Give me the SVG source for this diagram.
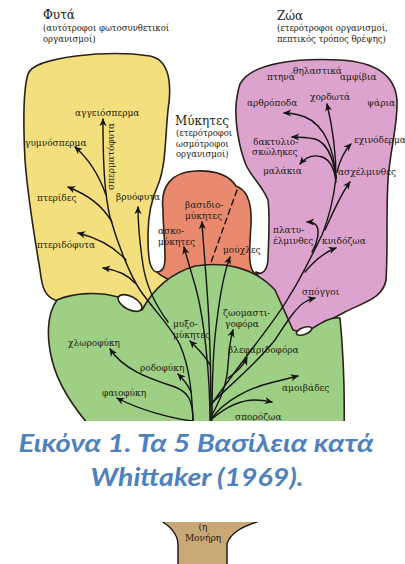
<svg xmlns="http://www.w3.org/2000/svg" width="405" height="564" viewBox="0 0 405 564">
<style>
.blob{stroke:#2a2218;stroke-width:1.6;stroke-linejoin:round}
.ln{fill:none;stroke:#141414;stroke-width:1.4;stroke-linecap:round}
.ar{marker-end:url(#ah)}
.lb{font-family:"DejaVu Serif Condensed","DejaVu Serif",serif;font-stretch:condensed;font-size:10px;fill:#221c14}
.ti{font-family:"DejaVu Serif",serif;font-size:12px;fill:#221c14}
.st{font-family:"DejaVu Serif",serif;font-size:8.5px;fill:#221c14}
.cap{font-family:Lato,"Open Sans",sans-serif;font-weight:bold;font-style:italic;font-size:25px;fill:#4f81bd}
</style>
<defs>
<marker id="ah" markerUnits="userSpaceOnUse" markerWidth="8" markerHeight="8" viewBox="0 0 10 10" refX="9" refY="5" orient="auto">
<path d="M0,0.5 L10,5 L0,9.5 L3,5 Z" fill="#141414"/>
</marker>
</defs>
<rect width="405" height="564" fill="#fff"/>

<g id="plants">
<path class="blob" fill="#f3df7e" d="M28,74 C34,56 110,50 150,56 C170,60 172,85 168,110 C165,140 166,165 158,185 C151,200 148,215 148,235 C148,250 149,262 151,266 C153,271 156,272 157,272 L178,286 L150,318 L118,300 C100,300 70,302 55,300 C45,296 42,288 40,270 C35,240 28,200 25,160 C23,120 23,90 28,74 Z"/>
</g>
<g id="fungi">
<path class="blob" fill="#e98a6e" d="M163,210 C160,186 172,172 195,171 C215,170 229,175 236,186 C247,190 252,204 251,224 C250,240 249,254 250,262 C251,270 254,274 258,274 C262,280 266,290 268,300 L160,300 C163,290 166,283 172,281 C165,278 160,275 157,272 C163,272 165,266 165,258 C165,240 163,225 163,210 Z"/>
</g>
<g id="animals">
<path class="blob" fill="#dba3cd" d="M240,84 C252,62 300,58 340,60 C375,62 395,75 397,100 C398,125 390,150 388,180 C386,215 388,250 386,280 C383,298 365,302 345,312 C330,320 315,328 303,334 L290,336 L256,272 C262,276 268,270 268,258 C269,235 270,215 268,200 C262,185 252,178 246,165 C238,145 235,120 236,105 C237,95 238,90 240,84 Z"/>
</g>
<g id="protists">
<path class="blob" fill="#9dcf84" d="M57,300 C75,292 100,292 118,297 L142,310 C150,295 165,275 195,266 C225,261 255,268 275,290 L293,330 L305,333 C318,325 330,316 340,318 C343,350 345,390 344,432 L95,432 C75,410 58,385 52,360 C47,340 46,315 57,300 Z"/>
<ellipse class="blob" fill="#fff" cx="130" cy="303" rx="13" ry="6.5" transform="rotate(28 130 303)"/>
<ellipse class="blob" fill="#fff" cx="304" cy="331" rx="8" ry="3.5" transform="rotate(-20 304 331)"/>
</g>

<g id="connectors">
<path class="ln ar" d="M193,421 C192,395 190,368 180,345 C170,325 152,308 140,290 C130,275 118,245 110,217 C105,195 103,170 103,119"/>
<path class="ln ar" d="M106,195 C100,178 90,160 75,147"/>
<path class="ln ar" d="M112,222 C102,205 88,195 68,187"/>
<path class="ln ar" d="M126,260 C115,248 98,238 78,233"/>
<path class="ln ar" d="M135,283 C128,275 117,270 103,268"/>
<path class="ln ar" d="M168,322 C154,303 146,285 143,265 C140,245 138,225 138,207"/>
<path class="ln ar" d="M193,421 C193,400 188,392 175,387 C155,380 125,372 110,349"/>
<path class="ln ar" d="M191,392 C188,385 184,380 178,374"/>
<path class="ln ar" d="M192,421 C170,418 140,410 117,398"/>
<path class="ln ar" d="M210,365 C205,355 197,348 190,341"/>
<path class="ln ar" d="M210,421 C210,380 205,320 195,285 C190,268 187,258 184,247"/>
<path class="ln ar" d="M211,421 C211,380 210,330 207,290 C205,260 203,240 202,222"/>
<path class="ln ar" d="M212,421 C212,380 214,340 217,320 C220,295 225,270 230,257"/>
<path class="ln" stroke-dasharray="6 4" d="M237,190 L210,265"/>
<path class="ln ar" d="M212,415 C220,400 227,385 228,365 C229,350 230,340 233,330"/>
<path class="ln ar" d="M228,378 C237,372 243,366 247,358"/>
<path class="ln ar" d="M212,418 C225,400 250,388 270,383 C282,380 290,378 298,376"/>
<path class="ln ar" d="M213,418 C225,408 240,400 255,400 C262,400 267,401 272,402"/>
<path class="ln" d="M211,405 C225,385 240,365 255,345 C270,325 282,310 290,295 C300,280 312,255 322,235 C330,215 334,195 336,178"/>
<path class="ln ar" d="M213,402 C230,385 255,365 275,340 C285,325 295,308 305,302 C308,300 311,299 315,298"/>
<path class="ln ar" d="M336,178 C336,150 332,125 327,104"/>
<path class="ln ar" d="M336,178 C334,150 325,125 305,117 C297,114 290,113 284,113"/>
<path class="ln ar" d="M336,178 C333,155 325,142 315,139 C305,137 298,137 292,137"/>
<path class="ln ar" d="M336,182 C334,165 328,157 318,156 C310,155 305,158 300,164"/>
<path class="ln ar" d="M337,172 C340,160 345,150 351,144"/>
<path class="ln ar" d="M325,230 C332,215 340,195 350,182"/>
<path class="ln ar" d="M312,252 C318,242 320,230 316,225 C313,222 310,222 307,222"/>
<path class="ln ar" d="M305,272 C315,260 325,252 336,248"/>
</g>

<g id="labels-plants">
<text class="ti" x="43" y="19">Φυτά</text>
<text class="st" x="43" y="31">(αυτότροφοι φωτοσυνθετικοί</text>
<text class="st" x="43" y="42">οργανισμοί)</text>
<text class="lb" x="75" y="116">αγγειόσπερμα</text>
<text class="lb" x="25" y="146">γυμνόσπερμα</text>
<text class="lb" font-size="9" transform="translate(114 190) rotate(-90)">σπερματόφυτα</text>
<text class="lb" x="37" y="201">πτερίδες</text>
<text class="lb" x="37" y="248">πτεριδόφυτα</text>
<text class="lb" x="116" y="200">βρυόφυτα</text>
</g>
<g id="labels-fungi">
<text class="ti" x="175" y="125">Μύκητες</text>
<text class="st" x="176" y="136">(ετερότροφοι</text>
<text class="st" x="176" y="146.5">ωσμότροφοι</text>
<text class="st" x="176" y="157">οργανισμοί)</text>
<text class="lb" x="185" y="208">βασιδιο-</text>
<text class="lb" x="185" y="219">μύκητες</text>
<text class="lb" x="158" y="234">ασκο-</text>
<text class="lb" x="158" y="245">μύκητες</text>
<text class="lb" x="223" y="253">μούχλες</text>
</g>
<g id="labels-protists">
<text class="lb" x="68" y="346">χλωροφύκη</text>
<text class="lb" x="140" y="371">ροδοφύκη</text>
<text class="lb" x="102" y="396">φαιοφύκη</text>
<text class="lb" x="173" y="327">μυξο-</text>
<text class="lb" x="173" y="338">μύκητες</text>
<text class="lb" x="223" y="316">ζωομαστι-</text>
<text class="lb" x="225" y="327">γοφόρα</text>
<text class="lb" x="228" y="353">βλεφαριδοφόρα</text>
<text class="lb" x="282" y="391">αμοιβάδες</text>
<text class="lb" x="235" y="420">σπορόζωα</text>
</g>
<g id="labels-animals">
<text class="ti" x="277" y="20">Ζώα</text>
<text class="st" x="277" y="31">(ετερότροφοι οργανισμοί,</text>
<text class="st" x="277" y="42">πεπτικός τρόπος θρέψης)</text>
<text class="lb" x="267" y="80">πτηνά</text>
<text class="lb" x="293" y="74">θηλαστικά</text>
<text class="lb" x="340" y="80">αμφίβια</text>
<text class="lb" x="310" y="100">χορδωτά</text>
<text class="lb" x="247" y="106">αρθρόποδα</text>
<text class="lb" x="367" y="106">ψάρια</text>
<text class="lb" x="253" y="145">δακτυλιο-</text>
<text class="lb" x="252" y="155">σκώληκες</text>
<text class="lb" x="354" y="143">εχινόδερμα</text>
<text class="lb" x="263" y="174">μαλάκια</text>
<text class="lb" x="338" y="175">ασχέλμινθες</text>
<text class="lb" x="273" y="233">πλατυ-</text>
<text class="lb" x="273" y="244">έλμινθες</text>
<text class="lb" x="322" y="244">κνιδόζωα</text>
<text class="lb" x="302" y="295">σπόγγοι</text>
</g>

<g id="monera">
<path fill="#c9a876" d="M160,521 C172,528 178,535 178,545 L178,566 L227,566 L227,548 C228,535 240,526 260,521 Z"/>
<path class="ln" d="M163,522 C172,528 178,535 178,545 L178,566"/>
<path class="ln" d="M257,522 C242,527 230,533 227,544 L227,566"/>
<text class="lb" x="203" y="530" font-size="8.5" text-anchor="middle">(η</text>
<text class="lb" x="203" y="541" text-anchor="middle">Μονήρη</text>
</g>

<rect x="0" y="421" width="405" height="101" fill="#fff"/>
<g id="caption">
<text class="cap" x="196" y="452" text-anchor="middle" textLength="355" lengthAdjust="spacingAndGlyphs">Εικόνα 1. Τα 5 Βασίλεια κατά</text>
<text class="cap" x="197" y="486" text-anchor="middle" textLength="213" lengthAdjust="spacingAndGlyphs">Whittaker (1969).</text>
</g>
</svg>
